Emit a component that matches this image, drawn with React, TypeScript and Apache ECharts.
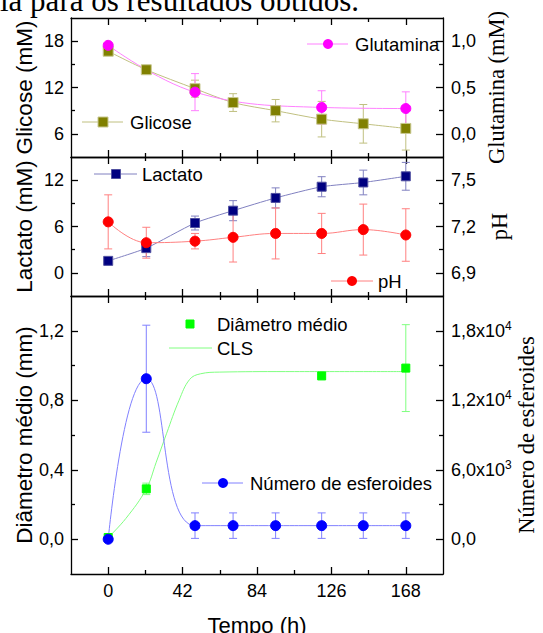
import React, { useEffect, useRef } from "react";
import * as echarts from "echarts";

const SANS = '"Liberation Sans", Arial, Helvetica, sans-serif';
const SERIF = '"Liberation Serif", "Times New Roman", serif';

// ---- x axis (Tempo, h)
const xMin = -21;
const xMax = 189;
const xMajorTicks = [0, 42, 84, 126, 168];
const xMinorTicks = [21, 63, 105, 147];

// ---- sampling times
const time = [0, 21.5, 49, 70.5, 94.5, 120.5, 144, 168];

// ---- top panel
const glicose = [16.7, 14.3, 11.85, 10.05, 9.0, 7.9, 7.3, 6.7];
const glicoseErr = [0.3, 0.3, 1.1, 1.15, 1.45, 2.3, 2.5, 2.8];
const glutTime = [0, 49, 120.5, 168];
const glutamina = [0.955, 0.45, 0.285, 0.273];
const glutaminaErr = [0.02, 0.2, 0.18, 0.18];

// ---- middle panel
const lactato = [1.55, 3.2, 6.45, 8.05, 9.7, 11.15, 11.7, 12.5];
const lactatoErr = [0.2, 1.1, 0.9, 1.3, 1.3, 1.3, 1.6, 1.8];
const ph = [7.23, 7.095, 7.105, 7.13, 7.155, 7.155, 7.18, 7.145];
const phErr = [0.175, 0.1, 0.05, 0.16, 0.165, 0.13, 0.165, 0.17];

// ---- bottom panel
const diamTime = [0, 21.5, 120.5, 168];
const diametro = [0.01, 0.29, 0.94, 0.985];
const diametroErr = [0.01, 0.033, 0.01, 0.25];
const numero = [0, 13860, 1175, 1175, 1175, 1175, 1175, 1175];
const numeroErr = [0, 4620, 1100, 1100, 1100, 1100, 1100, 1100];
const clsTime = [0, 10, 21.5, 27, 33, 40, 46, 52, 63, 100, 168];
const cls = [0.01, 0.12, 0.29, 0.44, 0.61, 0.8, 0.92, 0.952, 0.962, 0.965, 0.965];

// ---- y ticks
const glicoseTicks = [6, 12, 18];
const glicoseMinor = [9, 15];
const glutTicks = [0, 0.5, 1.0];
const glutMinor = [0.25, 0.75];
const lactatoTicks = [0, 6, 12];
const lactatoMinor = [3, 9];
const phTicks = [6.9, 7.2, 7.5];
const phMinor = [7.05, 7.35];
const diamTicks = [0, 0.4, 0.8, 1.2];
const diamMinor = [0.2, 0.6, 1.0];
const numTicks = [0, 6000, 12000, 18000];
const numMinor = [3000, 9000, 15000];

const LINE = { color: "#000", width: 1.3 };

const comma = (v: number, d: number) => v.toFixed(d).replace(".", ",");

function sciFmt(v: number) {
  if (v === 0) return "{b|0,0}";
  const e = Math.floor(Math.log10(v) + 1e-9);
  const m = v / Math.pow(10, e);
  return `{b|${comma(m, 1)}x10}{s|${e}}`;
}

function xAxes(grid: number, labels: boolean) {
  const base: any = {
    type: "value",
    gridIndex: grid,
    min: xMin,
    max: xMax,
    splitLine: { show: false },
  };
  const out: any[] = [];
  (["bottom", "top"] as const).forEach((pos) => {
    const isLab = labels && pos === "bottom";
    out.push({
      ...base,
      position: pos,
      axisLine: { show: true, onZero: false, lineStyle: LINE },
      axisTick: { show: true, inside: true, length: 7, customValues: xMajorTicks, lineStyle: LINE },
      axisLabel: {
        show: isLab,
        customValues: xMajorTicks,
        margin: 8,
        fontSize: 18,
        fontFamily: SANS,
        color: "#000",
        formatter: (v: number) => String(v),
      },
      name: isLab ? "Tempo (h)" : "",
      nameLocation: "middle",
      nameGap: 40,
      nameMoveOverlap: false,
      nameTextStyle: { fontSize: 22, fontFamily: SANS, color: "#000" },
    });
    out.push({
      ...base,
      position: pos,
      axisLine: { show: false, onZero: false },
      axisTick: { show: true, inside: true, length: 4, customValues: xMinorTicks, lineStyle: LINE },
      axisLabel: { show: false },
    });
  });
  return out;
}

function yPair(
  grid: number,
  pos: "left" | "right",
  min: number,
  max: number,
  majors: number[],
  minors: number[],
  fmt: (v: number) => string,
  name: string,
  nameFont: string,
  nameGap: number,
  rich?: any
) {
  const base: any = { type: "value", gridIndex: grid, position: pos, min, max, splitLine: { show: false } };
  return [
    {
      ...base,
      axisLine: { show: true, onZero: false, lineStyle: LINE },
      axisTick: { show: true, inside: true, length: 7, customValues: majors, lineStyle: LINE },
      axisLabel: {
        show: true,
        customValues: majors,
        formatter: fmt,
        margin: pos === "left" ? 7 : 8,
        fontSize: 18,
        fontFamily: SANS,
        color: "#000",
        rich,
      },
      name,
      nameLocation: "middle",
      nameGap,
      nameRotate: 90,
      nameMoveOverlap: false,
      nameTextStyle: { fontSize: nameFont === SERIF ? 22.5 : 22.5, fontFamily: nameFont, color: "#000" },
    },
    {
      ...base,
      axisLine: { show: false, onZero: false },
      axisTick: { show: true, inside: true, length: 4, customValues: minors, lineStyle: LINE },
      axisLabel: { show: false },
    },
  ];
}

function errSeries(xIdx: number, yIdx: number, t: number[], v: number[], e: number[], color: string) {
  return {
    type: "custom",
    xAxisIndex: xIdx,
    yAxisIndex: yIdx,
    silent: true,
    z: 2,
    data: t.map((x, i) => [x, v[i] - e[i], v[i] + e[i]]),
    encode: { x: 0, y: [1, 2] },
    renderItem: (_p: any, api: any) => {
      const x = api.value(0);
      const hi = api.coord([x, api.value(2)]);
      const lo = api.coord([x, api.value(1)]);
      const cap = 4;
      const style = { stroke: color, lineWidth: 1 };
      return {
        type: "group",
        children: [
          { type: "line", shape: { x1: hi[0], y1: hi[1], x2: lo[0], y2: lo[1] }, style },
          { type: "line", shape: { x1: hi[0] - cap, y1: hi[1], x2: hi[0] + cap, y2: hi[1] }, style },
          { type: "line", shape: { x1: lo[0] - cap, y1: lo[1], x2: lo[0] + cap, y2: lo[1] }, style },
        ],
      };
    },
  };
}

function lineSeries(
  xIdx: number,
  yIdx: number,
  t: number[],
  v: number[],
  symbol: string,
  size: number,
  fill: string,
  border: string,
  lineColor: string,
  smooth: number | boolean,
  showLine = true
) {
  return {
    type: "line",
    xAxisIndex: xIdx,
    yAxisIndex: yIdx,
    data: t.map((x, i) => [x, v[i]]),
    symbol,
    symbolSize: size,
    showSymbol: true,
    smooth,
    z: 3,
    itemStyle: { color: fill, borderColor: border, borderWidth: 1, opacity: 1 },
    lineStyle: { color: lineColor, width: showLine ? 1 : 0, opacity: showLine ? 1 : 0 },
  };
}

// legend helpers (graphic)
function legendLine(x1: number, x2: number, y: number, color: string) {
  return { type: "line", shape: { x1, y1: y, x2, y2: y }, style: { stroke: color, lineWidth: 1 } };
}
function legendCircle(cx: number, cy: number, fill: string) {
  return { type: "circle", shape: { cx, cy, r: 5 }, style: { fill } };
}
function legendRect(cx: number, cy: number, s: number, fill: string, stroke: string) {
  return { type: "rect", shape: { x: cx - s / 2, y: cy - s / 2, width: s, height: s }, style: { fill, stroke, lineWidth: 1 } };
}
function legendText(x: number, y: number, text: string) {
  return {
    type: "text",
    style: { text, x, y, fontSize: 18.5, fontFamily: SANS, fill: "#000", verticalAlign: "middle", align: "left" },
  };
}

const C = {
  glic: "#808000",
  glicLine: "#c0c080",
  glut: "#ff00ff",
  glutLine: "#ff80ff",
  lac: "#000080",
  lacLine: "#8080c0",
  ph: "#ff0000",
  phLine: "#ff8080",
  diam: "#00ff00",
  diamLine: "#80ff80",
  num: "#0000ff",
  numLine: "#8080ff",
};

export default function App() {
  const ref = useRef<HTMLDivElement>(null);
  useEffect(() => {
    if (!ref.current) return;
    const chart = echarts.init(ref.current, undefined, { renderer: "svg" });
    const grids = [
      { left: 71, right: 100, top: 18, height: 139 },
      { left: 71, right: 100, top: 157, height: 139 },
      { left: 71, right: 100, top: 296, height: 278 },
    ].map((g) => ({ ...g, containLabel: false, outerBoundsMode: "none" }));

    const xAxis = [...xAxes(0, false), ...xAxes(1, false), ...xAxes(2, true)];
    const yAxis = [
      ...yPair(0, "left", 3, 21, glicoseTicks, glicoseMinor, (v) => String(v), "Glicose (mM)", SANS, 35),
      ...yPair(0, "right", -0.25, 1.25, glutTicks, glutMinor, (v) => comma(v, 1), "Glutamina (mM)", SERIF, 42),
      ...yPair(1, "left", -3, 15, lactatoTicks, lactatoMinor, (v) => String(v), "Lactato (mM)", SANS, 35),
      ...yPair(1, "right", 6.75, 7.65, phTicks, phMinor, (v) => comma(v, 1), "pH", SERIF, 45),
      ...yPair(2, "left", -0.2, 1.4, diamTicks, diamMinor, (v) => comma(v, 1), "Diâmetro médio (mm)", SANS, 35),
      ...yPair(2, "right", -3000, 21000, numTicks, numMinor, sciFmt, "Número de esferoides", SERIF, 72, {
        b: { fontSize: 18, fontFamily: SANS, color: "#000" },
        s: { fontSize: 12, fontFamily: SANS, color: "#000", verticalAlign: "top", padding: [0, 0, 10, 0] },
      }),
    ];

    const series: any[] = [
      errSeries(0, 0, time, glicose, glicoseErr, C.glicLine),
      lineSeries(0, 0, time, glicose, "rect", 10, C.glic, "#c8c890", C.glicLine, 0.3),
      errSeries(0, 2, glutTime, glutamina, glutaminaErr, C.glutLine),
      lineSeries(0, 2, glutTime, glutamina, "circle", 10, C.glut, C.glut, C.glutLine, 0.4),

      errSeries(4, 4, time, lactato, lactatoErr, C.lacLine),
      lineSeries(4, 4, time, lactato, "rect", 9, C.lac, "#5050a0", C.lacLine, 0.2),
      errSeries(4, 6, time, ph, phErr, C.phLine),
      lineSeries(4, 6, time, ph, "circle", 10, C.ph, C.ph, C.phLine, 0.4),

      {
        type: "line",
        xAxisIndex: 8,
        yAxisIndex: 8,
        data: clsTime.map((x, i) => [x, cls[i]]),
        showSymbol: false,
        symbol: "none",
        smooth: 0.4,
        z: 2,
        lineStyle: { color: C.diamLine, width: 1 },
      },
      errSeries(8, 8, diamTime, diametro, diametroErr, C.diamLine),
      lineSeries(8, 8, diamTime, diametro, "rect", 8, C.diam, C.diam, C.diam, false, false),
      errSeries(8, 10, time, numero, numeroErr, C.numLine),
      lineSeries(8, 10, time, numero, "circle", 10, C.num, C.num, C.numLine, 0.5),
    ];

    const graphic: any[] = [
      {
        type: "text",
        style: {
          text: "ia para os resultados obtidos.",
          x: 0,
          y: 0,
          fontSize: 31,
          fontFamily: SERIF,
          fill: "#000",
          verticalAlign: "middle",
        },
      },
      legendLine(307, 348, 44, C.glutLine),
      legendCircle(328, 44, C.glut),
      legendText(355, 44, "Glutamina"),
      legendLine(82, 123, 122, C.glicLine),
      legendRect(103, 122, 10, C.glic, "#c8c890"),
      legendText(130, 122, "Glicose"),
      legendLine(94, 137, 174, C.lacLine),
      legendRect(116, 174, 9, C.lac, "#5050a0"),
      legendText(142, 174, "Lactato"),
      legendLine(331, 373, 281, C.phLine),
      legendCircle(352, 281, C.ph),
      legendText(378, 281, "pH"),
      legendRect(190, 324, 8, C.diam, C.diam),
      legendText(217, 324, "Diâmetro médio"),
      legendLine(169, 212, 348, C.diamLine),
      legendText(217, 348, "CLS"),
      legendLine(202, 243, 483, C.numLine),
      legendCircle(223, 483, C.num),
      legendText(250, 483, "Número de esferoides"),
    ];

    chart.setOption({
      animation: false,
      backgroundColor: "#fff",
      grid: grids,
      xAxis,
      yAxis,
      series,
      graphic,
    });
    return () => chart.dispose();
  }, []);
  return (
    <div
      ref={ref}
      style={{ position: "fixed", left: 0, top: 0, width: 543, height: 633, background: "#fff" }}
    />
  );
}
